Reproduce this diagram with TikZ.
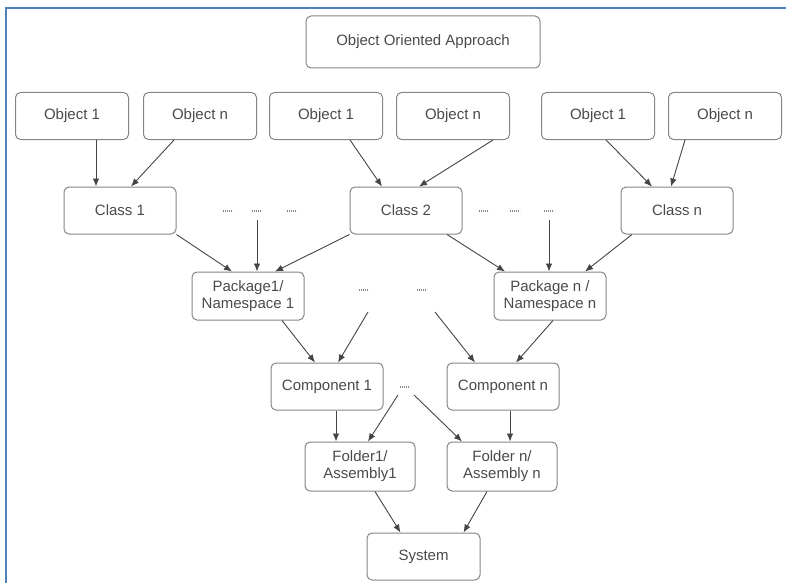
\documentclass[tikz,border=0pt]{standalone}
\usepackage{fontspec}
\setmainfont{Liberation Sans}
\usetikzlibrary{arrows.meta}
\definecolor{boxline}{HTML}{858585}
\definecolor{boxtext}{HTML}{4A4A4A}
\definecolor{arrowline}{HTML}{444444}
\definecolor{frameblue}{HTML}{4F81BD}
\begin{document}
\begin{tikzpicture}[x=1pt, y=-1pt,
	every node/.style={font=\fontsize{15}{17}\selectfont, text=boxtext},
	unit/.style={draw=boxline, line width=1pt, rounded corners=5pt, minimum width=113pt, minimum height=47pt, inner sep=0pt, align=center},
	gap/.style={minimum width=10pt, minimum height=2pt, inner sep=0pt, path picture={\draw[boxline, line width=1.6pt, dash pattern=on 1.2pt off 0.8pt] (path picture bounding box.west) -- (path picture bounding box.east);}},
	link/.style={draw=arrowline, line width=0.9pt, -{Latex[length=8pt,width=6.5pt]}}]
	\useasboundingbox (0,0) rectangle (786,583);
	\draw[frameblue, line width=2pt] (6,583) -- (6,8) -- (786,8);
	\node[unit, minimum width=234pt, minimum height=52pt] (ooa) at (423,42) {Object Oriented Approach};
	\node[unit] (o1a) at (72,116) {Object 1};
	\node[unit] (ona) at (200,116) {Object n};
	\node[unit] (o1b) at (326,116) {Object 1};
	\node[unit] (onb) at (453,116) {Object n};
	\node[unit] (o1c) at (598,116) {Object 1};
	\node[unit] (onc) at (725,116) {Object n};
	\node[unit, minimum width=112pt] (cl1) at (120,210.5) {Class 1};
	\node[unit, minimum width=112pt] (cl2) at (406,210.5) {Class 2};
	\node[unit, minimum width=112pt] (cln) at (677,210.5) {Class n};
	\node[gap] (gl1) at (228,211) {};
	\node[gap] (gl2) at (257,211) {};
	\node[gap] (gl3) at (292,211) {};
	\node[gap] (gr1) at (484,211) {};
	\node[gap] (gr2) at (515,211) {};
	\node[gap] (gr3) at (549,211) {};
	\node[unit, minimum width=112pt, minimum height=48pt] (pk1) at (248,296) {Package1/\\Namespace 1};
	\node[unit, minimum width=112pt, minimum height=48pt] (pkn) at (550,296) {Package n /\\Namespace n};
	\node[gap] (gp1) at (364,290) {};
	\node[gap] (gp2) at (422,290) {};
	\node[unit, minimum width=112pt] (cp1) at (327,386.5) {Component 1};
	\node[unit, minimum width=112pt] (cpn) at (503,386.5) {Component n};
	\node[gap] (gc) at (405,387) {};
	\node[unit, minimum width=110pt, minimum height=49pt] (fd1) at (360,466.5) {Folder1/\\Assembly1};
	\node[unit, minimum width=110pt, minimum height=49pt] (fdn) at (502,466.5) {Folder n/\\Assembly n};
	\node[unit] (sys) at (423.5,556.5) {System};

	\draw[link] ([xshift=24pt]o1a.south) -- ([xshift=-24pt]cl1.north);
	\draw[link] ([xshift=-26pt]ona.south) -- ([xshift=11pt]cl1.north);
	\draw[link] ([xshift=24pt]o1b.south) -- ([xshift=-24pt]cl2.north);
	\draw[link] ([xshift=40pt]onb.south) -- ([xshift=13pt]cl2.north);
	\draw[link] ([xshift=8pt]o1c.south) -- ([xshift=-25pt]cln.north);
	\draw[link] ([xshift=-40pt]onc.south) -- ([xshift=-6pt]cln.north);

	\draw[link] (cl1.south east) -- ([xshift=-16pt]pk1.north);
	\draw[link] ([yshift=-9pt]gl2.center) -- (gl2.center |- pk1.north);
	\draw[link] (cl2.south west) -- ([xshift=27pt]pk1.north);
	\draw[link] ([xshift=41pt]cl2.south) -- ([xshift=-45pt]pkn.north);
	\draw[link] ([yshift=-9pt]gr3.center) -- (gr3.center |- pkn.north);
	\draw[link] ([xshift=-45pt]cln.south) -- ([xshift=35pt]pkn.north);

	\draw[link] ([xshift=34pt]pk1.south) -- ([xshift=-12pt]cp1.north);
	\draw[link] ([shift={(4pt,-22pt)}]gp1.center) -- ([xshift=11pt]cp1.north);
	\draw[link] ([shift={(13pt,-22pt)}]gp2.center) -- ([xshift=-28pt]cpn.north);
	\draw[link] ([xshift=3pt]pkn.south) -- ([xshift=13pt]cpn.north);

	\draw[link] ([xshift=9pt]cp1.south) -- ([xshift=-24pt]fd1.north);
	\draw[link] ([shift={(-7pt,-8pt)}]gc.center) -- ([xshift=8pt]fd1.north);
	\draw[link] ([shift={(9pt,-8pt)}]gc.center) -- ([xshift=-40pt]fdn.north);
	\draw[link] ([xshift=7pt]cpn.south) -- ([xshift=7pt]cpn.south |- fdn.north);

	\draw[link] ([xshift=15pt]fd1.south) -- ([xshift=-23pt]sys.north);
	\draw[link] ([xshift=-15pt]fdn.south) -- ([xshift=40pt]sys.north);
\end{tikzpicture}
\end{document}
